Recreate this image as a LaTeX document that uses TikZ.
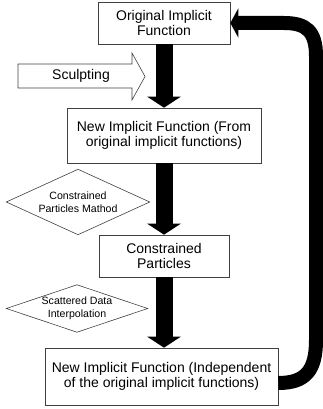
\documentclass[tikz,border=0pt]{standalone}
\usepackage{fontspec}
\setmainfont{Liberation Sans}
\usetikzlibrary{arrows.meta}
\begin{document}
\begin{tikzpicture}[x=1pt,y=-1pt,
    box/.style={draw=black!75,line width=.6pt,align=center,inner sep=0pt,font=\fontsize{14}{15.5}\selectfont},
    choice/.style={align=center,inner sep=0pt,font=\fontsize{10.6}{13.5}\selectfont},
    edge/.style={draw=black!75,line width=.6pt},
    flow/.style={line width=17pt,-{Triangle[width=33pt,length=11pt]}},
    back/.style={line width=14pt,-{Triangle[width=29pt,length=8pt]}}]
    \useasboundingbox (0,0) rectangle (323,409);

    \node[box,minimum width=132pt,minimum height=42pt] (orig) at (164,23) {Original Implicit\\Function};
    \node[box,minimum width=194pt,minimum height=55pt] (newfrom) at (164,135.5) {New Implicit Function (From\\original implicit functions)};
    \node[box,minimum width=130pt,minimum height=42pt] (part) at (164,256) {Constrained\\Particles};
    \node[box,minimum width=233pt,minimum height=57pt] (newind) at (161.5,376.5) {New Implicit Function (Independent\\of the original implicit functions)};

    \node[choice,minimum width=143pt,minimum height=65pt] (cpm) at (78,202) {Constrained\\Particles Mathod};
    \draw[edge] (cpm.west)--(cpm.north)--(cpm.east)--(cpm.south)--cycle;
    \node[choice,minimum width=141pt,minimum height=47pt] (sdi) at (77,308.5) {Scattered Data\\Interpolation};
    \draw[edge] (sdi.west)--(sdi.north)--(sdi.east)--(sdi.south)--cycle;

    \draw[edge,fill=white] (18,64)--(132,64)--(132,53)--(145,76.5)--(132,100)--(132,88)--(18,88)--cycle;
    \node[font=\fontsize{14}{16}\selectfont] (sculpt) at (81,76) {Sculpting};

    \draw[flow] (orig.south) -- (orig.south |- newfrom.north);
    \draw[flow] (newfrom.south) -- (newfrom.south |- part.north);
    \draw[flow] (part.south) -- (part.south |- newind.north);

    \coordinate (out) at ([yshift=-6.5pt]newind.east);
    \draw[back] (out) .. controls (306,383) and (316,370) .. (316,340)
        -- (316,56) .. controls (316,31) and (306,23) .. (284,23) -- (orig.east);
\end{tikzpicture}
\end{document}
